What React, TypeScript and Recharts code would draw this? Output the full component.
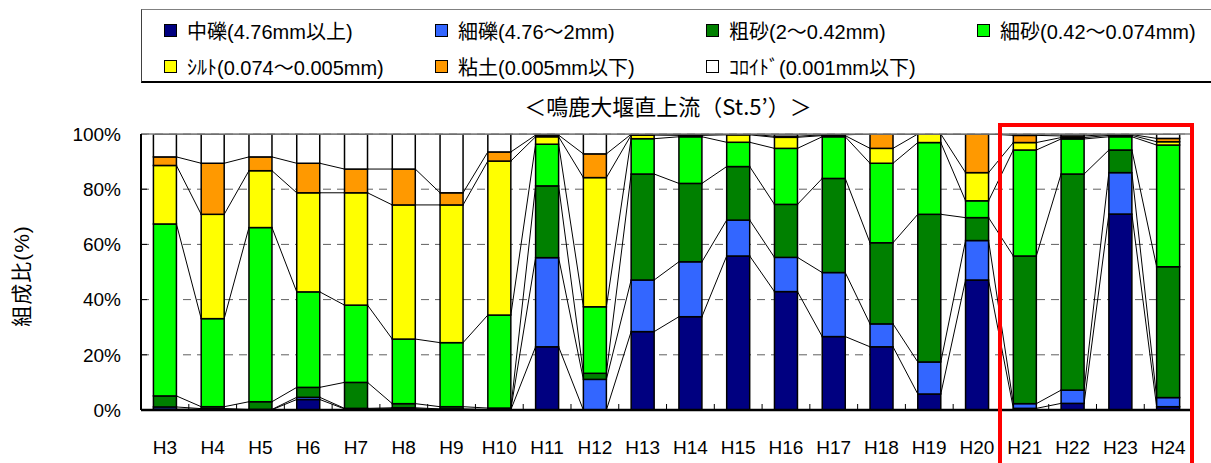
import * as React from "react";
import { Bar, BarChart, CartesianGrid, ReferenceLine, XAxis, YAxis } from "recharts";

// 年度
const CATEGORIES = [
  "H3", "H4", "H5", "H6", "H7", "H8", "H9", "H10", "H11", "H12", "H13",
  "H14", "H15", "H16", "H17", "H18", "H19", "H20", "H21", "H22", "H23", "H24",
];

// 粒度組成 (%) — bottom of the stack first
const GRAVEL_MEDIUM = [0.3, 0.3, 0.1, 3.8, 0.4, 0.5, 0.2, 0.1, 22.9, 0, 28.4, 33.8, 55.8, 42.9, 26.6, 22.9, 5.8, 47.1, 0.6, 2.4, 71.0, 1.2];
const GRAVEL_FINE = [0.8, 0.2, 0.1, 0.8, 0.2, 0.3, 0.2, 0.1, 32.3, 11.1, 18.7, 19.9, 13.0, 12.4, 23.2, 8.3, 11.6, 14.3, 1.7, 4.8, 15.0, 3.3];
const SAND_COARSE = [4.0, 0.7, 2.8, 3.6, 9.4, 1.5, 0.8, 0.5, 26.0, 2.2, 38.4, 28.4, 19.4, 19.2, 34.1, 29.4, 53.5, 8.3, 53.5, 78.3, 8.2, 47.4];
const SAND_FINE = [62.3, 31.9, 63.1, 34.6, 28.0, 23.4, 23.2, 33.7, 15.1, 24.1, 12.8, 16.9, 8.8, 20.3, 15.1, 28.8, 26.0, 6.1, 38.4, 12.7, 4.8, 44.1];
const SILT = [21.2, 37.8, 20.6, 35.9, 40.7, 48.6, 49.9, 55.8, 2.7, 46.8, 1.3, 0.5, 2.7, 4.0, 0.4, 5.4, 3.1, 10.2, 2.7, 0.5, 0.5, 1.2];
const CLAY = [3.1, 18.5, 5.0, 10.7, 8.6, 13.0, 4.4, 3.3, 0.6, 8.6, 0.3, 0.3, 0.2, 0.4, 0.3, 5.2, 0, 14.0, 2.6, 0.6, 0.3, 1.2];
const COLLOID = [8.3, 10.6, 8.3, 10.6, 12.7, 12.7, 21.3, 6.5, 0.4, 7.2, 0.1, 0.2, 0.1, 0.8, 0.3, 0, 0, 0, 0.5, 0.7, 0.2, 1.6];

const SERIES = [
  { key: "gravelMedium", name: "中礫(4.76mm以上)", color: "#000080", values: GRAVEL_MEDIUM },
  { key: "gravelFine", name: "細礫(4.76～2mm)", color: "#3366FF", values: GRAVEL_FINE },
  { key: "sandCoarse", name: "粗砂(2～0.42mm)", color: "#008000", values: SAND_COARSE },
  { key: "sandFine", name: "細砂(0.42～0.074mm)", color: "#00FF00", values: SAND_FINE },
  { key: "silt", name: "ｼﾙﾄ(0.074～0.005mm)", color: "#FFFF00", values: SILT },
  { key: "clay", name: "粘土(0.005mm以下)", color: "#FF9900", values: CLAY },
  { key: "colloid", name: "ｺﾛｲﾄﾞ(0.001mm以下)", color: "#FFFFFF", values: COLLOID },
];

const Y_TICKS = [0, 20, 40, 60, 80, 100];

const data = CATEGORIES.map((year, i) => {
  const row: Record<string, string | number> = { year };
  SERIES.forEach((s) => {
    row[s.key] = s.values[i];
  });
  return row;
});

// cumulative top of each series per category, used for the Excel-style series lines
const cumulative = SERIES.map((_, k) =>
  CATEGORIES.map((__, i) => SERIES.slice(0, k + 1).reduce((acc, s) => acc + s.values[i], 0)),
);

const W = 1211;
const H = 463;
const PLOT_LEFT = 141;
const PLOT_TOP = 134;
const PLOT_RIGHT = 1192;
const PLOT_BOTTOM = 410;
const PLOT_W = PLOT_RIGHT - PLOT_LEFT;
const PLOT_H = PLOT_BOTTOM - PLOT_TOP;
const FONT = "'Liberation Sans', 'Noto Sans CJK JP', sans-serif";

function makeShape(k: number) {
  return function SegmentShape(props: any) {
    const { x, width, height, index, fill, background } = props;
    const band = PLOT_W / CATEGORIES.length;
    const top = background?.y ?? PLOT_TOP;
    const h = background?.height ?? PLOT_H;
    const yPix = (v: number) => top + h * (1 - v / 100);
    const yTop = yPix(cumulative[k][index]);
    const yBottom = yPix(k === 0 ? 0 : cumulative[k - 1][index]);
    const offset = (band - width) / 2;
    return (
      <g>
        {height > 0 && (
          <rect x={x} y={yTop} width={width} height={yBottom - yTop} fill={fill} stroke="#000" strokeWidth={1.5} />
        )}
        {index < CATEGORIES.length - 1 && (
          <line
            x1={x + width}
            y1={yTop}
            x2={x + band}
            y2={yPix(cumulative[k][index + 1])}
            stroke="#000"
            strokeWidth={1}
          />
        )}
        {k === 0 && index > 0 && (
          <line x1={x - offset} x2={x - offset} y1={yPix(0)} y2={yPix(0) - 6} stroke="#000" strokeWidth={1} />
        )}
        {k === 0 &&
          index === 0 &&
          Y_TICKS.map((t) => (
            <line key={t} x1={x - offset} x2={x - offset + 6} y1={yPix(t)} y2={yPix(t)} stroke="#000" strokeWidth={1} />
          ))}
      </g>
    );
  };
}

function LegendBox() {
  return (
    <div
      style={{
        position: "absolute",
        left: 141,
        top: 9,
        width: 1100,
        height: 74,
        boxSizing: "border-box",
        borderTop: "1.5px solid #808080",
        borderLeft: "1.5px solid #404040",
        borderBottom: "2px solid #000",
        fontFamily: FONT,
        fontSize: 20,
        color: "#000",
      }}
    >
      {SERIES.map((s, i) => {
        const col = i < 4 ? i : i - 4;
        const row = i < 4 ? 0 : 1;
        return (
          <div
            key={s.key}
            style={{
              position: "absolute",
              left: 22 + col * 271,
              top: row === 0 ? 7 : 43,
              height: 26,
              display: "flex",
              alignItems: "center",
              whiteSpace: "nowrap",
            }}
          >
            <span
              style={{
                display: "inline-block",
                width: 11,
                height: 11,
                background: s.color,
                border: "1.5px solid #000",
                marginRight: 10,
              }}
            />
            <span>{s.name}</span>
          </div>
        );
      })}
    </div>
  );
}

export default function App() {
  return (
    <div
      style={{
        position: "absolute",
        left: 0,
        top: 0,
        width: W,
        height: H,
        overflow: "hidden",
        background: "#fff",
        fontFamily: FONT,
      }}
    >
      <LegendBox />
      <div
        style={{
          position: "absolute",
          left: 0,
          width: 1336,
          top: 92,
          textAlign: "center",
          fontSize: 22,
          lineHeight: "26px",
          fontFamily: "'Noto Sans CJK JP', sans-serif",
          color: "#000",
        }}
      >
        ＜鳴鹿大堰直上流（St.5’）＞
      </div>
      <div
        style={{
          position: "absolute",
          left: 22 - 70,
          top: 276 - 14,
          width: 140,
          height: 28,
          lineHeight: "28px",
          textAlign: "center",
          transform: "rotate(-90deg)",
          fontSize: 21,
          letterSpacing: 1,
          fontFamily: FONT,
          color: "#000",
        }}
      >
        組成比(%)
      </div>
      <BarChart
        width={W}
        height={H}
        data={data}
        margin={{ top: PLOT_TOP, right: W - PLOT_RIGHT, bottom: 0, left: 0 }}
        barCategoryGap="26%"
        style={{ position: "absolute", left: 0, top: 0 }}
      >
        <CartesianGrid vertical={false} stroke="#606060" strokeDasharray="8 6" />
        <XAxis
          dataKey="year"
          height={H - PLOT_BOTTOM}
          tickLine={false}
          tickSize={0}
          tickMargin={31}
          axisLine={{ stroke: "#000", strokeWidth: 2.5 }}
          tick={{ fill: "#000", fontSize: 19, fontFamily: FONT }}
          interval={0}
        />
        <YAxis
          width={PLOT_LEFT}
          domain={[0, 100]}
          ticks={Y_TICKS}
          tickFormatter={(v: number) => `${v}%`}
          tickLine={false}
          tickSize={0}
          tickMargin={20}
          axisLine={{ stroke: "#000", strokeWidth: 2 }}
          tick={{ fill: "#000", fontSize: 19, fontFamily: FONT }}
          allowDataOverflow
        />
        <ReferenceLine y={100} stroke="#808080" strokeWidth={1.5} />
        {SERIES.map((s, k) => (
          <Bar
            key={s.key}
            dataKey={s.key}
            name={s.name}
            stackId="a"
            fill={s.color}
            shape={makeShape(k)}
            isAnimationActive={false}
          />
        ))}
      </BarChart>
      <div
        style={{
          position: "absolute",
          left: 998,
          top: 123,
          width: 196,
          height: 400,
          boxSizing: "border-box",
          border: "4px solid #FF0000",
        }}
      />
    </div>
  );
}
